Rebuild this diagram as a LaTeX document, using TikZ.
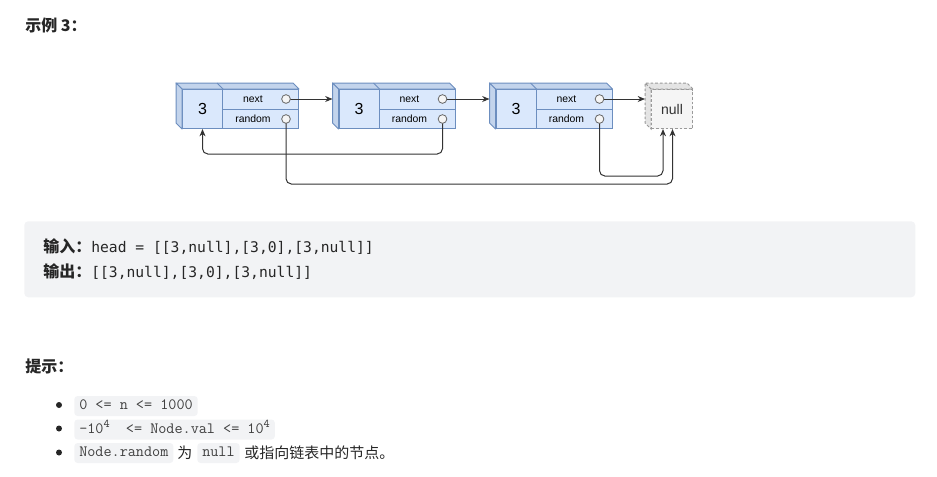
\documentclass[tikz,border=0pt]{standalone}
\usepackage{fontspec}
\setmainfont{Liberation Sans}
\newfontfamily\cjk{Noto Sans CJK SC}
\newfontfamily\codefont{DejaVu Sans Mono}
\usetikzlibrary{calc,arrows.meta}
\definecolor{boxfill}{HTML}{DAE8FC}
\definecolor{boxline}{HTML}{6C8EBF}
\definecolor{boxside}{HTML}{C3D4EC}
\definecolor{nullfill}{HTML}{F5F5F5}
\definecolor{nullside}{HTML}{E4E4E4}
\definecolor{nullline}{HTML}{9A9A9A}
\definecolor{txt}{HTML}{262626}
\definecolor{codebg}{HTML}{F2F3F5}
\definecolor{codetxt}{HTML}{404040}
\definecolor{linkcol}{HTML}{333333}
\newcommand{\supfour}{\raisebox{0.85ex}{\fontsize{8.8}{8.8}\selectfont 4}}
\tikzset{
  valcell/.style={draw=boxline, fill=boxfill, line width=0.75pt, minimum width=30pt, minimum height=29.25pt, inner sep=0pt, font=\fontsize{12}{12}\selectfont, text=black},
  fieldcell/.style={draw=boxline, fill=boxfill, line width=0.75pt, minimum width=57pt, minimum height=14.625pt, inner sep=0pt},
  fieldtext/.style={inner sep=0pt, font=\fontsize{7.8}{8}\selectfont, text=black},
  port/.style={circle, draw=black!60, fill=nullfill, line width=0.6pt, minimum size=6.5pt, inner sep=0pt},
  cubeside/.style={draw=boxline, fill=boxside, line width=0.75pt, line join=round},
  nullbox/.style={draw=nullline, fill=nullfill, dashed, dash pattern=on 2pt off 1.5pt, line width=0.75pt, minimum width=30.75pt, minimum height=29.25pt, inner sep=0pt, font=\fontsize{10.5}{11}\selectfont, text=linkcol},
  nullside/.style={draw=nullline, fill=nullside, dash pattern=on 2pt off 1.5pt, line width=0.75pt},
  link/.style={draw=linkcol, line width=0.75pt, -{Stealth[length=5.5pt,width=4.5pt]}, rounded corners=4pt},
  inl/.style={fill=codebg, rounded corners=2.5pt, inner xsep=3.75pt, inner ysep=0pt, minimum height=15pt, text height=7.8pt, text depth=2.2pt, font=\ttfamily\fontsize{11.8}{11.8}\selectfont, text=codetxt, anchor=west},
  plain/.style={inner sep=0pt, anchor=west, text=txt},
  bulletdot/.style={circle, fill=txt, minimum size=4.5pt, inner sep=0pt}
}
\begin{document}
\begin{tikzpicture}[x=0.75pt,y=-0.75pt]
\useasboundingbox (0,0) rectangle (937,476);

% title
\node[plain, font=\cjk\bfseries\fontsize{12}{12}\selectfont] (title) at (25,25) {示例 3：};

% linked list boxes
\foreach \i/\X in {1/182, 2/338.5, 3/495.5} {
  \node[valcell, anchor=north west] (v\i) at (\X,89) {3};
  \node[fieldcell, anchor=north west] (n\i) at (\X+40,89) {};
  \node[fieldcell, anchor=north west] (r\i) at (\X+40,108.5) {};
  \node[fieldtext] (tn\i) at (\X+71,99) {next};
  \node[fieldtext] (tr\i) at (\X+71,119) {random};
  \draw[cubeside] (v\i.north west) -- ++(-6,-6) -- ($(n\i.north east)+(-6,-6)$) -- (n\i.north east) -- cycle;
  \draw[cubeside] (v\i.north west) -- ++(-6,-6) -- ($(v\i.south west)+(-6,-6)$) -- (v\i.south west) -- cycle;
  \draw[boxline, line width=0.75pt] (v\i.north east) -- ++(-6,-6);
  \coordinate (lf\i) at ($(v\i.west)+(-6,0)$);
}

% null box
\node[nullbox, anchor=north west] (nul) at (651,89) {null};
\draw[nullside] (nul.north west) -- ++(-6,-6) -- ($(nul.north east)+(-6,-6)$) -- (nul.north east) -- cycle;
\draw[nullside] (nul.north west) -- ++(-6,-6) -- ($(nul.south west)+(-6,-6)$) -- (nul.south west) -- cycle;
\node[nullbox, anchor=north west, fill=nullfill] (nulfront) at (651,89) {null};
\coordinate (nulin) at ($(nul.west)+(-6,0)$);

% ports
\foreach \i/\X in {1/182, 2/338.5, 3/495.5} {
  \coordinate (pn\i) at (\X+104,99);
  \coordinate (pr\i) at (\X+104,119);
}

% connectors
\draw[link] (pn1) -- (pn1 -| lf2);
\draw[link] (pn2) -- (pn2 -| lf3);
\draw[link] (pn3) -- (pn3 -| nulin);
\draw[link] (pr2) |- ($(v1.south)+(0,25)$) -- (v1.south);
\draw[link] (pr1) |- ($(nul.south)+(0.5,55)$) -- ($(nul.south)+(0.5,0)$);
\draw[link] (pr3) |- ($(nul.south)+(-9,47)$) -- ($(nul.south)+(-9,0)$);

\foreach \i in {1,2,3} {
  \node[port] (cn\i) at (pn\i) {};
  \node[port] (cr\i) at (pr\i) {};
}

% example box
\node[fill=codebg, rounded corners=3pt, minimum width=668.25pt, minimum height=57pt, anchor=north west, inner sep=0pt] (exbox) at (24,221) {};
\node[plain] (inl1) at (43,246.5) {{\cjk\bfseries\fontsize{12}{12}\selectfont 输入：}{\codefont\fontsize{11}{11}\selectfont head = [[3,null],[3,0],[3,null]]}};
\node[plain] (inl2) at (43,272) {{\cjk\bfseries\fontsize{12}{12}\selectfont 输出：}{\codefont\fontsize{11}{11}\selectfont [[3,null],[3,0],[3,null]]}};

% hints
\node[plain, font=\cjk\bfseries\fontsize{12}{12}\selectfont] (hint) at (25,366) {提示：};

\node[bulletdot] (b1) at (59,405) {};
\node[bulletdot] (b2) at (59,428.5) {};
\node[bulletdot] (b3) at (59,452.5) {};

\node[inl] (c1) at (74,406) {0 <= n <= 1000};
\node[inl] (c2) at (74,429.5) {-10\supfour\ \ <= Node.val <= 10\supfour};
\node[inl] (c3) at (74,453) {Node.random};
\node[plain, font=\cjk\fontsize{11.25}{12}\selectfont] (w1) at (177,453) {为};
\node[inl] (c4) at (197,453) {null};
\node[plain, font=\cjk\fontsize{11.25}{12}\selectfont] (w2) at (244,453) {或指向链表中的节点。};
\end{tikzpicture}
\end{document}
